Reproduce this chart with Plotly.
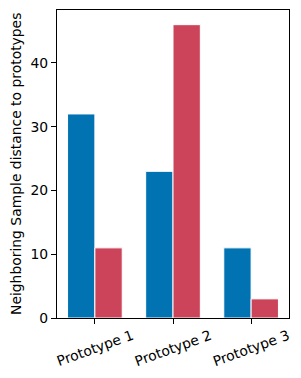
import plotly.graph_objects as go

categories = ["Prototype 1", "Prototype 2", "Prototype 3"]
series_a = [32, 23, 11]
series_b = [11, 46, 3]
y_ticks = [0, 10, 20, 30, 40]

BLUE = "#0173B2"
RED = "#CC4459"
FONT = "DejaVu Sans"
FS = 13.9

fig = go.Figure()
fig.add_trace(go.Bar(x=categories, y=series_a, marker=dict(color=BLUE, line=dict(color="white", width=1)), showlegend=False))
fig.add_trace(go.Bar(x=categories, y=series_b, marker=dict(color=RED, line=dict(color="white", width=1)), showlegend=False))

for c in categories:
    fig.add_annotation(x=c, xref="x", y=0, yref="paper", yshift=-30, text=c, showarrow=False,
                       textangle=-20, xanchor="center", yanchor="middle",
                       font=dict(family=FONT, size=FS, color="black"))

fig.add_annotation(x=0, xref="paper", xshift=-41, y=0.5, yref="paper", text="Neighboring Sample distance to prototypes",
                   textangle=-90, showarrow=False, xanchor="center", yanchor="middle",
                   font=dict(family=FONT, size=FS, color="black"))

fig.update_layout(
    width=301, height=378,
    margin=dict(l=57, r=12, t=10, b=60),
    paper_bgcolor="white", plot_bgcolor="white",
    barmode="group", bargap=0.3, bargroupgap=0,
    font=dict(family=FONT, size=FS, color="black"),
    xaxis=dict(range=[-0.485, 2.485], showline=True, mirror=True, linecolor="black", linewidth=1.1,
               ticks="outside", ticklen=5, tickwidth=1.1, tickcolor="black", showticklabels=False,
               showgrid=False, zeroline=False),
    yaxis=dict(range=[0, 48.3], showline=True, mirror=True, linecolor="black", linewidth=1.1,
               ticks="outside", ticklen=5, tickwidth=1.1, tickcolor="black",
               tickvals=y_ticks, ticktext=[str(v) for v in y_ticks],
               showgrid=False, zeroline=False, tickfont=dict(family=FONT, size=FS, color="black")),
)

fig.write_html("out.html", config={"displayModeBar": False},
               post_script="document.body.style.margin='0';document.body.style.overflow='hidden';")
